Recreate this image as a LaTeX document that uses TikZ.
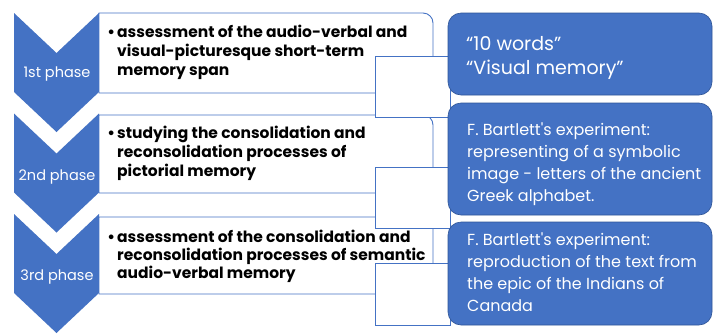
\documentclass[tikz,border=0pt]{standalone}
\usepackage{fontspec}
\setmainfont{Poppins}[Ligatures=TeXOff]
\definecolor{obl}{HTML}{4472C4}
\definecolor{obd}{HTML}{2F5597}
\begin{document}
\begin{tikzpicture}[x=1pt,y=-1pt,
  chev/.style={fill=obl,draw=none},
  wbox/.style={fill=white,draw=obl,line width=0.9pt},
  linkbox/.style={fill=white,draw=obl,line width=0.9pt},
  bbox/.style={fill=obl,draw=obd,line width=0.6pt,rounded corners=13pt},
  wtext/.style={anchor=base west,inner sep=0pt,align=left,text=black,font=\bfseries\fontsize{15.5}{19}\selectfont},
  btext/.style={anchor=base west,inner sep=0pt,align=left,text=white,font=\fontsize{16}{22}\selectfont},
  ptext/.style={anchor=base,inner sep=0pt,text=white,font=\fontsize{14.5}{16}\selectfont}]
\useasboundingbox (0,0) rectangle (713,333);
\fill[white] (0,0) rectangle (713,333);
% chevrons
\path[chev] (14,13) -- (56.5,53) -- (99,13) -- (99,92) -- (56.5,132) -- (14,92) -- cycle;
\path[chev] (14,113.5) -- (56.5,153.5) -- (99,113.5) -- (99,192.5) -- (56.5,232.5) -- (14,192.5) -- cycle;
\path[chev] (14,214) -- (56.5,254) -- (99,214) -- (99,293) -- (56.5,333) -- (14,293) -- cycle;
% white boxes
\path[wbox] (99,13) -- (423,13) arc[start angle=-90,end angle=0,radius=10] -- (433,93) -- (99,93) -- cycle;
\path[wbox] (99,115) -- (423,115) arc[start angle=-90,end angle=0,radius=10] -- (433,193) -- (99,193) -- cycle;
\path[wbox] (99,217) -- (423,217) arc[start angle=-90,end angle=0,radius=10] -- (433,294) -- (99,294) -- cycle;
% white box texts
\node[wtext] (t1) at (117,75) {\llap{•\hspace{2pt}}assessment of the audio-verbal and\\visual-picturesque short-term\\memory span};
\node[wtext] (t2) at (117,176) {\llap{•\hspace{2pt}}studying the consolidation and\\reconsolidation processes of\\pictorial memory};
\node[wtext,font=\bfseries\fontsize{15.5}{18}\selectfont] (t3) at (117,278) {\llap{•\hspace{2pt}}assessment of the consolidation and\\reconsolidation processes of semantic\\audio-verbal memory};
% link rectangles
\path[linkbox] (375,56) rectangle (450,117);
\path[linkbox] (375,167) rectangle (450,228);
\path[linkbox] (375,263) rectangle (450,325);
% blue boxes
\path[bbox] (448,13) rectangle (712,95);
\path[bbox] (448,103) rectangle (712,215);
\path[bbox] (448,222) rectangle (712,325);
% phase labels
\node[ptext] (p1) at (57,77) {1st phase};
\node[ptext] (p2) at (57,180) {2nd phase};
\node[ptext] (p3) at (57,280) {3rd phase};
% blue box texts
\node[btext,font=\fontsize{19}{24}\selectfont] (b1) at (466,74) {“10 words”\\“Visual memory”};
\node[btext] (b2) at (467,201) {F. Bartlett's experiment:\\representing of a symbolic\\image - letters of the ancient\\Greek alphabet.};
\node[btext] (b3) at (467,311) {F. Bartlett's experiment:\\reproduction of the text from\\the epic of the Indians of\\Canada};
\end{tikzpicture}
\end{document}
